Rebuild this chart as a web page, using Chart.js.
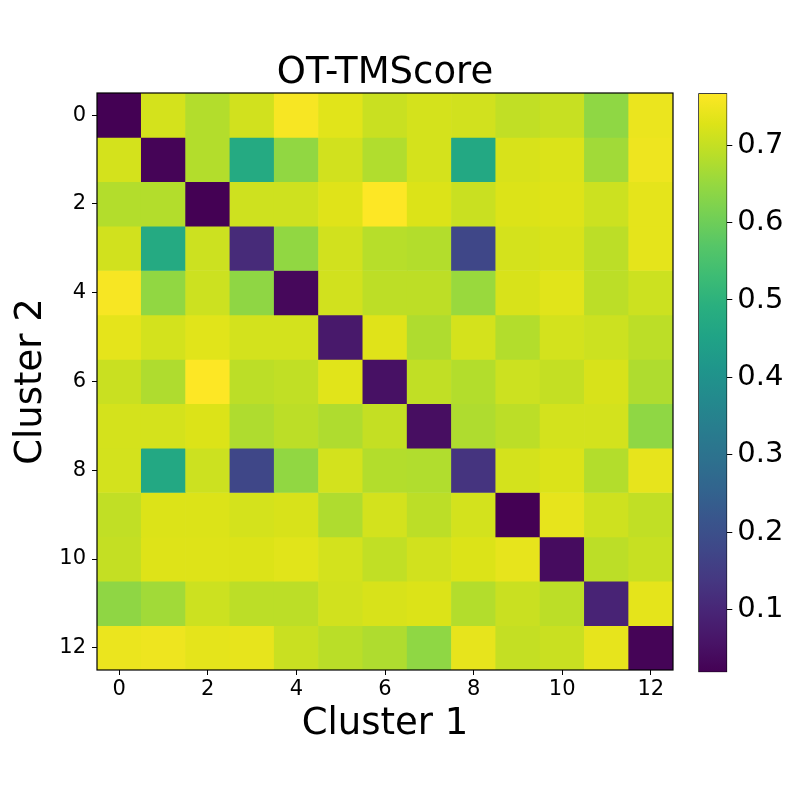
<!DOCTYPE html>
<html>
<head>
<meta charset="utf-8">
<title>OT-TMScore</title>
<script src="https://cdn.jsdelivr.net/npm/chart.js@4.4.1/dist/chart.umd.min.js"></script>
<style>
  html, body { margin: 0; padding: 0; background: #fff; }
  #wrap { position: relative; width: 800px; height: 800px; }
  #heat { position: absolute; left: 0; top: 0; }
  #cbar { position: absolute; left: 690px; top: 0; }
</style>
</head>
<body>
<div id="wrap">
  <canvas id="heat" width="800" height="800"></canvas>
  <canvas id="cbar" width="110" height="800"></canvas>
</div>
<script>
// cluster indices (same on both axes)
const clusters = [0, 1, 2, 3, 4, 5, 6, 7, 8, 9, 10, 11, 12];
const axisTicks = [0, 2, 4, 6, 8, 10, 12];

// OT-TMScore, one array per row (Cluster 2), columns are Cluster 1
const scores = [
  [0.019, 0.718, 0.681, 0.714, 0.760, 0.733, 0.705, 0.718, 0.714, 0.696, 0.703, 0.642, 0.745],
  [0.718, 0.026, 0.681, 0.475, 0.644, 0.714, 0.679, 0.718, 0.467, 0.722, 0.725, 0.662, 0.748],
  [0.681, 0.681, 0.020, 0.711, 0.711, 0.731, 0.767, 0.727, 0.705, 0.727, 0.729, 0.709, 0.737],
  [0.714, 0.475, 0.709, 0.110, 0.644, 0.714, 0.685, 0.681, 0.176, 0.718, 0.722, 0.690, 0.737],
  [0.760, 0.644, 0.709, 0.641, 0.034, 0.714, 0.692, 0.692, 0.653, 0.722, 0.733, 0.690, 0.709],
  [0.737, 0.716, 0.733, 0.716, 0.716, 0.070, 0.731, 0.677, 0.718, 0.681, 0.716, 0.709, 0.690],
  [0.705, 0.677, 0.767, 0.690, 0.696, 0.733, 0.053, 0.696, 0.681, 0.709, 0.700, 0.722, 0.677],
  [0.718, 0.718, 0.727, 0.677, 0.690, 0.677, 0.700, 0.045, 0.677, 0.690, 0.716, 0.716, 0.642],
  [0.716, 0.467, 0.709, 0.176, 0.644, 0.716, 0.681, 0.679, 0.131, 0.718, 0.725, 0.681, 0.740],
  [0.696, 0.727, 0.727, 0.718, 0.722, 0.677, 0.716, 0.690, 0.716, 0.019, 0.740, 0.711, 0.696],
  [0.700, 0.729, 0.729, 0.727, 0.733, 0.716, 0.696, 0.714, 0.727, 0.740, 0.041, 0.690, 0.703],
  [0.641, 0.662, 0.709, 0.690, 0.690, 0.714, 0.722, 0.727, 0.681, 0.705, 0.690, 0.094, 0.737],
  [0.745, 0.748, 0.737, 0.740, 0.705, 0.688, 0.677, 0.642, 0.740, 0.700, 0.705, 0.740, 0.026]
];

// colour bar range and ticks
const cbMin = 0.019;
const cbMax = 0.767;
const cbTicks = [0.1, 0.2, 0.3, 0.4, 0.5, 0.6, 0.7];

// viridis, 20 evenly spaced stops
const viridisStops = [
  '#440154', '#481467', '#482576', '#453781', '#3f4788', '#39558c', '#32648e',
  '#2d718e', '#287d8e', '#238a8d', '#1f968b', '#20a386', '#29af7f', '#3dbc74',
  '#56c667', '#75d054', '#95d840', '#bade28', '#dde318', '#fde725'
];

function hexToRgb(h) {
  return [parseInt(h.slice(1, 3), 16), parseInt(h.slice(3, 5), 16), parseInt(h.slice(5, 7), 16)];
}
const viridisRgb = viridisStops.map(hexToRgb);

function viridis(v) {
  let t = (v - cbMin) / (cbMax - cbMin);
  t = Math.max(0, Math.min(1, t));
  const p = t * (viridisRgb.length - 1);
  const i = Math.min(Math.floor(p), viridisRgb.length - 2);
  const f = p - i;
  const a = viridisRgb[i], b = viridisRgb[i + 1];
  const c = a.map((x, k) => Math.round(x + (b[k] - x) * f));
  return 'rgb(' + c.join(',') + ')';
}

Chart.defaults.font.family = '"DejaVu Sans", sans-serif';
Chart.defaults.color = '#000';

// frame round the plot area (matplotlib spines)
const framePlugin = {
  id: 'frame',
  afterDraw(chart) {
    const a = chart.chartArea;
    const ctx = chart.ctx;
    ctx.save();
    ctx.strokeStyle = '#000';
    ctx.lineWidth = 1.2;
    ctx.strokeRect(a.left, a.top, a.right - a.left, a.bottom - a.top);
    ctx.restore();
  }
};

const datasets = scores.map((row, r) => ({
  label: 'Cluster 2 = ' + clusters[r],
  data: row.map((v, c) => ({ x: clusters[c], y: [clusters[r] - 0.5, clusters[r] + 0.5], v: v })),
  backgroundColor: row.map(viridis),
  borderWidth: 0,
  grouped: false,
  categoryPercentage: 1,
  barPercentage: 1
}));

new Chart(document.getElementById('heat'), {
  type: 'bar',
  data: { datasets: datasets },
  plugins: [framePlugin],
  options: {
    responsive: false,
    animation: false,
    layout: { padding: { left: 0, right: 127, top: 0, bottom: 0 } },
    plugins: {
      legend: { display: false },
      tooltip: {
        callbacks: {
          label: (item) => item.raw.v.toFixed(3)
        }
      },
      title: {
        display: true,
        text: 'OT-TMScore',
        fullSize: false,
        color: '#000',
        font: { size: 37, weight: 'normal', lineHeight: 1 },
        padding: { top: 55, bottom: 1 }
      }
    },
    scales: {
      x: {
        type: 'linear',
        min: -0.5,
        max: 12.5,
        offset: false,
        afterBuildTicks: (s) => { s.ticks = axisTicks.map(v => ({ value: v })); },
        afterFit: (s) => { s.height = 130; },
        ticks: {
          font: { size: 21 },
          padding: 2,
          maxRotation: 0,
          callback: (v) => String(v)
        },
        grid: { drawOnChartArea: false, offset: false, tickLength: 5, color: '#000' },
        border: { display: false },
        title: {
          display: true,
          text: 'Cluster 1',
          font: { size: 37, lineHeight: 1 },
          padding: { top: 0, bottom: 57 }
        }
      },
      y: {
        type: 'linear',
        reverse: true,
        min: -0.5,
        max: 12.5,
        afterBuildTicks: (s) => { s.ticks = axisTicks.map(v => ({ value: v })); },
        afterFit: (s) => { s.width = 97; },
        ticks: {
          font: { size: 21 },
          padding: 6,
          callback: (v) => String(v)
        },
        grid: { drawOnChartArea: false, offset: false, tickLength: 5, color: '#000' },
        border: { display: false },
        title: {
          display: true,
          text: 'Cluster 2',
          font: { size: 37, lineHeight: 1 },
          padding: { top: 12.5, bottom: 0 }
        }
      }
    }
  }
});

// colour bar
new Chart(document.getElementById('cbar'), {
  type: 'bar',
  data: {
    labels: [''],
    datasets: [{
      data: [[cbMin, cbMax]],
      backgroundColor: (ctx) => {
        const area = ctx.chart.chartArea;
        if (!area) return viridisStops[10];
        const g = ctx.chart.ctx.createLinearGradient(0, area.bottom, 0, area.top);
        viridisStops.forEach((c, i) => g.addColorStop(i / (viridisStops.length - 1), c));
        return g;
      },
      borderColor: '#000',
      borderWidth: 1,
      borderSkipped: false,
      categoryPercentage: 1,
      barPercentage: 1
    }]
  },
  options: {
    responsive: false,
    animation: false,
    layout: { padding: { left: 8.3, right: 0, top: 93.3, bottom: 127.7 } },
    plugins: { legend: { display: false }, tooltip: { enabled: false } },
    scales: {
      x: { display: false },
      y: {
        position: 'right',
        min: cbMin,
        max: cbMax,
        afterBuildTicks: (s) => { s.ticks = cbTicks.map(v => ({ value: v })); },
        afterFit: (s) => { s.width = 72.7; },
        ticks: {
          font: { size: 29 },
          padding: 5,
          callback: (v) => v.toFixed(1)
        },
        grid: { drawOnChartArea: false, tickLength: 5, color: '#000' },
        border: { display: false }
      }
    }
  }
});
</script>
</body>
</html>
